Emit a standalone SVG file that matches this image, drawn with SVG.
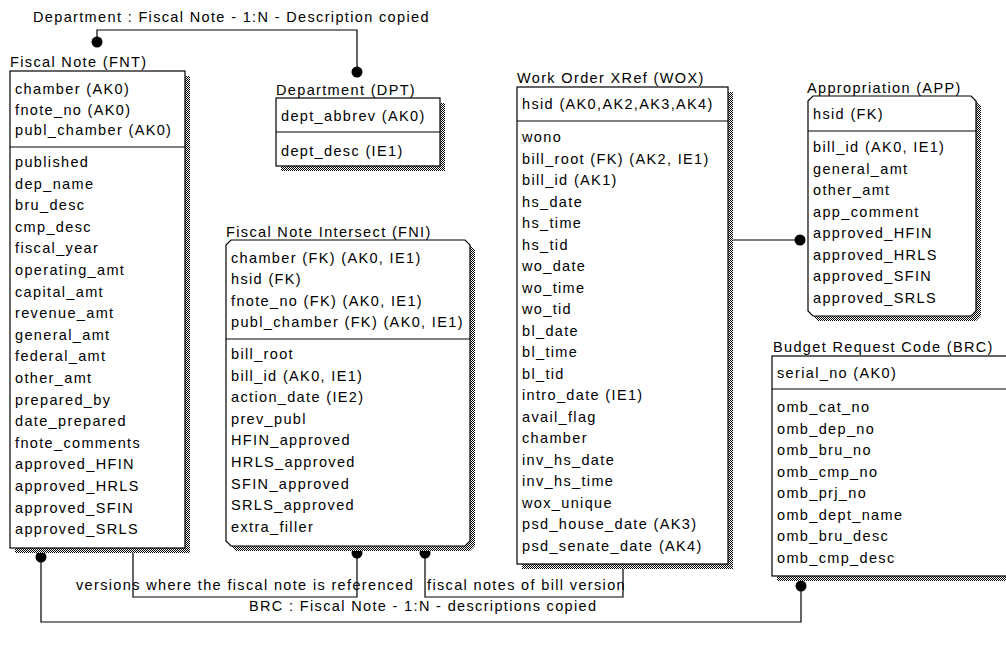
<svg xmlns="http://www.w3.org/2000/svg" width="1006" height="650" viewBox="0 0 1006 650">
<defs>
<pattern id="dither" width="2" height="2" patternUnits="userSpaceOnUse">
<rect width="2" height="2" fill="#fff"/>
<rect width="1" height="1" fill="#000"/>
<rect x="1" y="1" width="1" height="1" fill="#000"/>
</pattern>
<style>
text{font-family:"Liberation Sans",Arial,sans-serif;font-size:14.5px;letter-spacing:1.35px;fill:#000}
.box{fill:#fff;stroke:#000;stroke-width:1.2}
.shd{fill:url(#dither);stroke:none}
.div{stroke:#000;stroke-width:1.2;fill:none}
.con{stroke:#000;stroke-width:1.2;fill:none}
.dot{fill:#000}
</style>
</defs>
<rect width="1006" height="650" fill="#fff"/>

<g id="connectors">
<path class="con" d="M97,42 V30 H357 V72"/>
<circle class="dot" cx="97" cy="42" r="5.5"/>
<circle class="dot" cx="357" cy="72" r="5.5"/>
<text x="33" y="22">Department : Fiscal Note - 1:N - Description copied</text>
<path class="con" d="M728,240 H800"/>
<circle class="dot" cx="800" cy="240" r="5.5"/>
<path class="con" d="M41,557 V622 H801 V586"/>
<circle class="dot" cx="41" cy="557" r="5.5"/>
<circle class="dot" cx="801" cy="586" r="5.5"/>
<text x="249" y="611">BRC : Fiscal Note - 1:N - descriptions copied</text>
<path class="con" d="M133,548 V597 H357 V553"/>
<circle class="dot" cx="357" cy="553" r="5.5"/>
<text x="76" y="590">versions where the fiscal note is referenced</text>
<path class="con" d="M425,553 V597 H623 V564"/>
<circle class="dot" cx="425" cy="553" r="5.5"/>
<text x="427" y="590">fiscal notes of bill version</text>
</g>

<g id="FNT">
<text x="10" y="67">Fiscal Note (FNT)</text>
<rect class="shd" x="15" y="76" width="175" height="477"/>
<rect class="box" x="10" y="71" width="175" height="477"/>
<line class="div" x1="10" y1="147" x2="185" y2="147"/>
<text x="15" y="94">chamber (AK0)</text>
<text x="15" y="114.5">fnote_no (AK0)</text>
<text x="15" y="135">publ_chamber (AK0)</text>
<text x="15" y="167">published</text>
<text x="15" y="188.6">dep_name</text>
<text x="15" y="210.2">bru_desc</text>
<text x="15" y="231.8">cmp_desc</text>
<text x="15" y="253.4">fiscal_year</text>
<text x="15" y="275">operating_amt</text>
<text x="15" y="296.6">capital_amt</text>
<text x="15" y="318.2">revenue_amt</text>
<text x="15" y="339.8">general_amt</text>
<text x="15" y="361.4">federal_amt</text>
<text x="15" y="383">other_amt</text>
<text x="15" y="404.6">prepared_by</text>
<text x="15" y="426.2">date_prepared</text>
<text x="15" y="447.8">fnote_comments</text>
<text x="15" y="469.4">approved_HFIN</text>
<text x="15" y="491">approved_HRLS</text>
<text x="15" y="512.6">approved_SFIN</text>
<text x="15" y="534.2">approved_SRLS</text>
</g>

<g id="DPT">
<text x="276" y="95">Department (DPT)</text>
<rect class="shd" x="281" y="103" width="164" height="68"/>
<rect class="box" x="276" y="98" width="164" height="68"/>
<line class="div" x1="276" y1="132" x2="440" y2="132"/>
<text x="281" y="121">dept_abbrev (AK0)</text>
<text x="281" y="156">dept_desc (IE1)</text>
</g>

<g id="FNI">
<text x="226" y="237">Fiscal Note Intersect (FNI)</text>
<path class="shd" d="M236,245 H470 L475,250 V546 L470,551 H236 L231,546 V250 Z"/>
<path class="box" d="M231,240 H465 L470,245 V541 L465,546 H231 L226,541 V245 Z"/>
<line class="div" x1="226" y1="339" x2="470" y2="339"/>
<text x="231" y="263">chamber (FK) (AK0, IE1)</text>
<text x="231" y="284.3">hsid (FK)</text>
<text x="231" y="305.6">fnote_no (FK) (AK0, IE1)</text>
<text x="231" y="326.9">publ_chamber (FK) (AK0, IE1)</text>
<text x="231" y="359">bill_root</text>
<text x="231" y="380.6">bill_id (AK0, IE1)</text>
<text x="231" y="402.2">action_date (IE2)</text>
<text x="231" y="423.8">prev_publ</text>
<text x="231" y="445.4">HFIN_approved</text>
<text x="231" y="467">HRLS_approved</text>
<text x="231" y="488.6">SFIN_approved</text>
<text x="231" y="510.2">SRLS_approved</text>
<text x="231" y="531.8">extra_filler</text>
</g>

<g id="WOX">
<text x="517" y="83">Work Order XRef (WOX)</text>
<rect class="shd" x="522" y="92" width="211" height="477"/>
<rect class="box" x="517" y="87" width="211" height="477"/>
<line class="div" x1="517" y1="121" x2="728" y2="121"/>
<text x="522" y="109">hsid (AK0,AK2,AK3,AK4)</text>
<text x="522" y="142">wono</text>
<text x="522" y="163.5">bill_root (FK) (AK2, IE1)</text>
<text x="522" y="185">bill_id (AK1)</text>
<text x="522" y="206.5">hs_date</text>
<text x="522" y="228">hs_time</text>
<text x="522" y="249.5">hs_tid</text>
<text x="522" y="271">wo_date</text>
<text x="522" y="292.5">wo_time</text>
<text x="522" y="314">wo_tid</text>
<text x="522" y="335.5">bl_date</text>
<text x="522" y="357">bl_time</text>
<text x="522" y="378.5">bl_tid</text>
<text x="522" y="400">intro_date (IE1)</text>
<text x="522" y="421.5">avail_flag</text>
<text x="522" y="443">chamber</text>
<text x="522" y="464.5">inv_hs_date</text>
<text x="522" y="486">inv_hs_time</text>
<text x="522" y="507.5">wox_unique</text>
<text x="522" y="529">psd_house_date (AK3)</text>
<text x="522" y="550.5">psd_senate_date (AK4)</text>
</g>

<g id="APP">
<text x="807" y="93">Appropriation (APP)</text>
<path class="shd" d="M818,101 H976 L981,106 V316 L976,321 H818 L813,316 V106 Z"/>
<path class="box" d="M813,96 H971 L976,101 V311 L971,316 H813 L808,311 V101 Z"/>
<line class="div" x1="808" y1="131" x2="976" y2="131"/>
<text x="813" y="119">hsid (FK)</text>
<text x="813" y="152">bill_id (AK0, IE1)</text>
<text x="813" y="173.5">general_amt</text>
<text x="813" y="195">other_amt</text>
<text x="813" y="216.5">app_comment</text>
<text x="813" y="238">approved_HFIN</text>
<text x="813" y="259.5">approved_HRLS</text>
<text x="813" y="281">approved_SFIN</text>
<text x="813" y="302.5">approved_SRLS</text>
</g>

<g id="BRC">
<text x="773" y="352">Budget Request Code (BRC)</text>
<rect class="shd" x="777" y="361" width="240" height="220"/>
<rect class="box" x="772" y="356" width="240" height="220"/>
<line class="div" x1="772" y1="389" x2="1012" y2="389"/>
<text x="777" y="378">serial_no (AK0)</text>
<text x="777" y="412">omb_cat_no</text>
<text x="777" y="433.5">omb_dep_no</text>
<text x="777" y="455">omb_bru_no</text>
<text x="777" y="476.5">omb_cmp_no</text>
<text x="777" y="498">omb_prj_no</text>
<text x="777" y="519.5">omb_dept_name</text>
<text x="777" y="541">omb_bru_desc</text>
<text x="777" y="562.5">omb_cmp_desc</text>
</g>
</svg>
